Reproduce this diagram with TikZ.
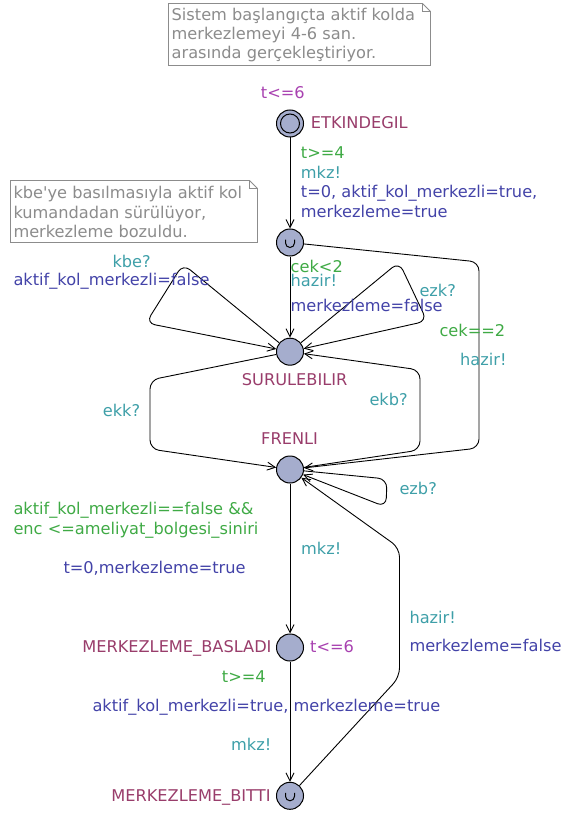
\documentclass[tikz,border=0pt]{standalone}
\usepackage{fontspec}
\setmainfont{DejaVu Sans}[Ligatures=TeXOff]
\usetikzlibrary{arrows.meta}

% colour scheme of the automaton
\definecolor{locname}{HTML}{993D6B}
\definecolor{guardc}{HTML}{3FAA45}
\definecolor{syncc}{HTML}{3E9FA8}
\definecolor{assignc}{HTML}{4343A8}
\definecolor{invc}{HTML}{A841B0}
\definecolor{notec}{HTML}{8C8C8C}
\definecolor{locfill}{HTML}{A5ADCD}

\begin{document}
\begin{tikzpicture}[x=1pt,y=-1pt,
  font=\fontsize{16.2}{19.5}\selectfont,
  loc/.style={circle, draw=black, fill=locfill, minimum size=27pt, inner sep=0pt, line width=1pt},
  lbl/.style={anchor=base west, inner sep=0pt},
  lblr/.style={anchor=base east, inner sep=0pt},
  nm/.style={lbl, text=locname},
  nmr/.style={lblr, text=locname},
  grd/.style={lbl, text=guardc},
  syn/.style={lbl, text=syncc},
  asg/.style={lbl, text=assignc},
  inv/.style={lbl, text=invc},
  notetxt/.style={lbl, text=notec},
  notebox/.style={draw=notec, line width=0.9pt, fill=white},
  trans/.style={draw=black, line width=0.9pt, rounded corners=9pt,
    -{Straight Barb[length=8pt,width=8pt,line width=0.9pt]}},
]
\useasboundingbox (0,0) rectangle (563,813);

% ---------- comment notes ----------
\draw[notebox] (168.5,3.5) -- (422.5,3.5) -- (430.5,11.5) -- (430.5,65.5) -- (168.5,65.5) -- cycle;
\draw[notec, line width=0.9pt] (422.5,3.5) -- (422.5,11.5) -- (430.5,11.5);
\node[notetxt] (n1a) at (171.5,20.5) {Sistem başlangıçta aktif kolda};
\node[notetxt] (n1b) at (171.5,39.5) {merkezlemeyi 4-6 san.};
\node[notetxt] (n1c) at (171.5,58.5) {arasında gerçekleştiriyor.};

\draw[notebox] (10.5,180.5) -- (249.5,180.5) -- (257.5,188.5) -- (257.5,242.5) -- (10.5,242.5) -- cycle;
\draw[notec, line width=0.9pt] (249.5,180.5) -- (249.5,188.5) -- (257.5,188.5);
\node[notetxt] (n2a) at (13.3,198.3) {kbe'ye basılmasıyla aktif kol};
\node[notetxt] (n2b) at (13.3,218) {kumandadan sürülüyor,};
\node[notetxt] (n2c) at (13.3,237.7) {merkezleme bozuldu.};

% ---------- locations ----------
\node[loc] (etk) at (290,123.5) {};
\draw[line width=1pt] (etk.center) circle[radius=9.5pt];
\node[loc] (c1) at (290,242.5) {};
\draw[line width=1pt] (c1.center) ++(-4.5,-3) -- ++(0,3.5) arc[start angle=180, end angle=0, radius=4.5] -- ++(0,-3.5);
\node[loc] (sur) at (290,351.7) {};
\node[loc] (fren) at (290,469.5) {};
\node[loc] (bas) at (290,647.5) {};
\node[loc] (bit) at (290,795.8) {};
\draw[line width=1pt] (bit.center) ++(-4.5,-3) -- ++(0,3.5) arc[start angle=180, end angle=0, radius=4.5] -- ++(0,-3.5);

% location names and invariants
\node[inv] (i1) at (260.7,99) {t<=6};
\node[nm] (l1) at (310.7,129) {ETKINDEGIL};
\node[nm] (l3) at (241.7,385.7) {SURULEBILIR};
\node[nm] (l4) at (261,444.3) {FRENLI};
\node[nmr] (l5) at (271.7,652.7) {MERKEZLEME\_BASLADI};
\node[inv] (i5) at (310,652.7) {t<=6};
\node[nmr] (l6) at (270.7,801.7) {MERKEZLEME\_BITTI};

% ---------- transitions ----------
\draw[trans] (etk) -- (c1);
\draw[trans] (c1) -- (sur);
\draw[trans] (c1) -- (479,262) -- (479,448) -- (fren);
\draw[trans] (sur) -- (183,264) -- (146,323) -- (sur);
\draw[trans] (sur) -- (399,262) -- (427,321) -- (sur);
\draw[trans] (sur) -- (150,380) -- (150,449) -- (fren);
\draw[trans] (fren) -- (420,450) -- (420,370) -- (sur);
\draw[trans] (fren) -- (387,479) -- (386,507) -- (fren);
\draw[trans] (fren) -- (bas);
\draw[trans] (bas) -- (bit);
\draw[trans] (bit) -- (399.5,677) -- (399.5,548) -- (fren);

% ---------- transition labels ----------
\node[grd] (g1) at (300.7,158.3) {t>=4};
\node[syn] (s1) at (300.7,178.3) {mkz!};
\node[asg] (a1a) at (300.7,197.3) {t=0, aktif\_kol\_merkezli=true,};
\node[asg] (a1b) at (300.7,217.3) {merkezleme=true};

\node[grd] (g2) at (290.5,272.7) {cek<2};
\node[syn] (s2) at (290.5,286) {hazir!};
\node[asg] (a2) at (290.5,311.7) {merkezleme=false};

\node[syn] (s3) at (419.3,296.7) {ezk?};
\node[grd] (g4) at (439.3,336.7) {cek==2};
\node[syn] (s4) at (460,365.7) {hazir!};

\node[syn] (s5) at (112.3,267) {kbe?};
\node[asg] (a5) at (13.3,285.5) {aktif\_kol\_merkezli=false};

\node[syn] (s6) at (102.7,416) {ekk?};
\node[syn] (s7) at (369.3,405) {ekb?};
\node[syn] (s8) at (399.3,494.5) {ezb?};

\node[grd] (g9a) at (13.3,514.3) {aktif\_kol\_merkezli==false \&\&};
\node[grd] (g9b) at (13.3,534.3) {enc <=ameliyat\_bolgesi\_siniri};
\node[syn] (s9) at (301,554) {mkz!};
\node[asg] (a9) at (63.3,573.3) {t=0,merkezleme=true};

\node[grd] (g10) at (221.7,682) {t>=4};
\node[asg] (a10) at (92.3,711.7) {aktif\_kol\_merkezli=true, merkezleme=true};
\node[syn] (s10) at (231,750.7) {mkz!};

\node[syn] (s11) at (409.3,623.3) {hazir!};
\node[asg] (a11) at (409.3,651.7) {merkezleme=false};
\end{tikzpicture}
\end{document}
